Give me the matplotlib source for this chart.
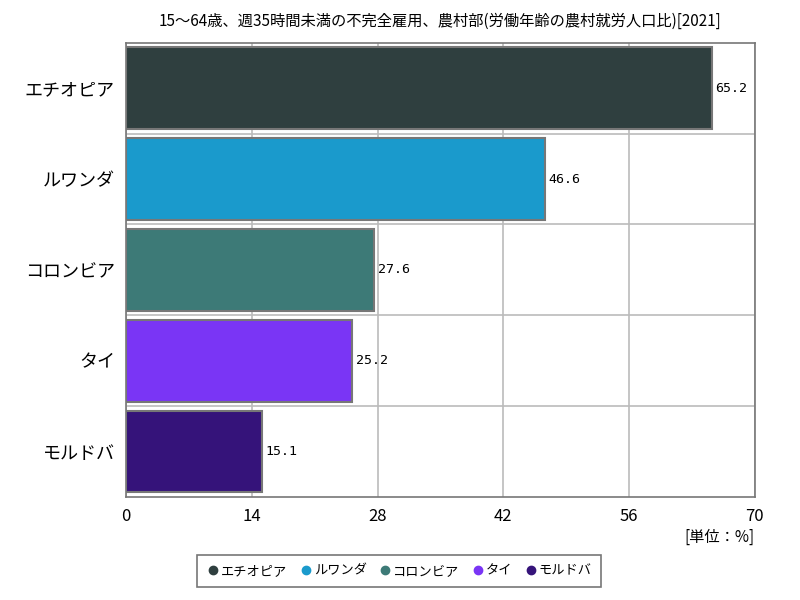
import matplotlib.pyplot as plt
from matplotlib.lines import Line2D

plt.rcParams['font.family'] = ['Noto Sans CJK JP', 'DejaVu Sans']

TITLE = "15～64歳、週35時間未満の不完全雇用、農村部(労働年齢の農村就労人口比)[2021]"
COUNTRIES = ["エチオピア", "ルワンダ", "コロンビア", "タイ", "モルドバ"]
VALUES = [65.2, 46.6, 27.6, 25.2, 15.1]
COLORS = ["#2f3f3f", "#1a9acc", "#3d7a77", "#7a35f5", "#35137a"]
X_TICKS = [0, 14, 28, 42, 56, 70]

fig = plt.figure(figsize=(8, 6), dpi=100)
ax = fig.add_axes([0.1575, 0.1717, 0.786, 0.757])

pos = list(range(len(COUNTRIES)))
ax.barh(pos, VALUES, height=0.9, color=COLORS, edgecolor="#777777",
        linewidth=1.5, zorder=3)
for p, v in zip(pos, VALUES):
    ax.text(v + 0.4, p, f"{v}", va="center", ha="left", fontsize=9.5,
            family="DejaVu Sans Mono", zorder=4)

ax.set_xlim(0, 70)
ax.set_ylim(len(COUNTRIES) - 0.5, -0.5)
ax.set_xticks(X_TICKS)
ax.set_xticklabels([str(t) for t in X_TICKS], fontsize=12)
ax.set_yticks(pos)
ax.set_yticklabels(COUNTRIES, fontsize=13)
ax.set_yticks([p + 0.5 for p in pos[:-1]], minor=True)
ax.tick_params(axis="both", which="both", length=0, pad=8)
ax.grid(axis="x", color="#bbbbbb", linewidth=1.2, zorder=0)
ax.grid(axis="y", which="minor", color="#bbbbbb", linewidth=1.2, zorder=0)
for s in ax.spines.values():
    s.set_color("#777777")
    s.set_linewidth(1.2)

ax.set_title(TITLE, fontsize=11, pad=12)
fig.text(0.943, 0.105, "[単位：%]", ha="right", va="center", fontsize=11)

handles = [Line2D([], [], marker="o", linestyle="", color=c, markersize=6)
           for c in COLORS]
leg = fig.legend(handles, COUNTRIES, loc="center", bbox_to_anchor=(0.499, 0.048),
                 ncol=5, fontsize=9.5, frameon=True, fancybox=False,
                 handletextpad=0.1, columnspacing=0.9, borderpad=0.7,
                 handlelength=1.0)
leg.get_frame().set_edgecolor("#555555")
leg.get_frame().set_linewidth(1.2)

fig.savefig("out.png")
